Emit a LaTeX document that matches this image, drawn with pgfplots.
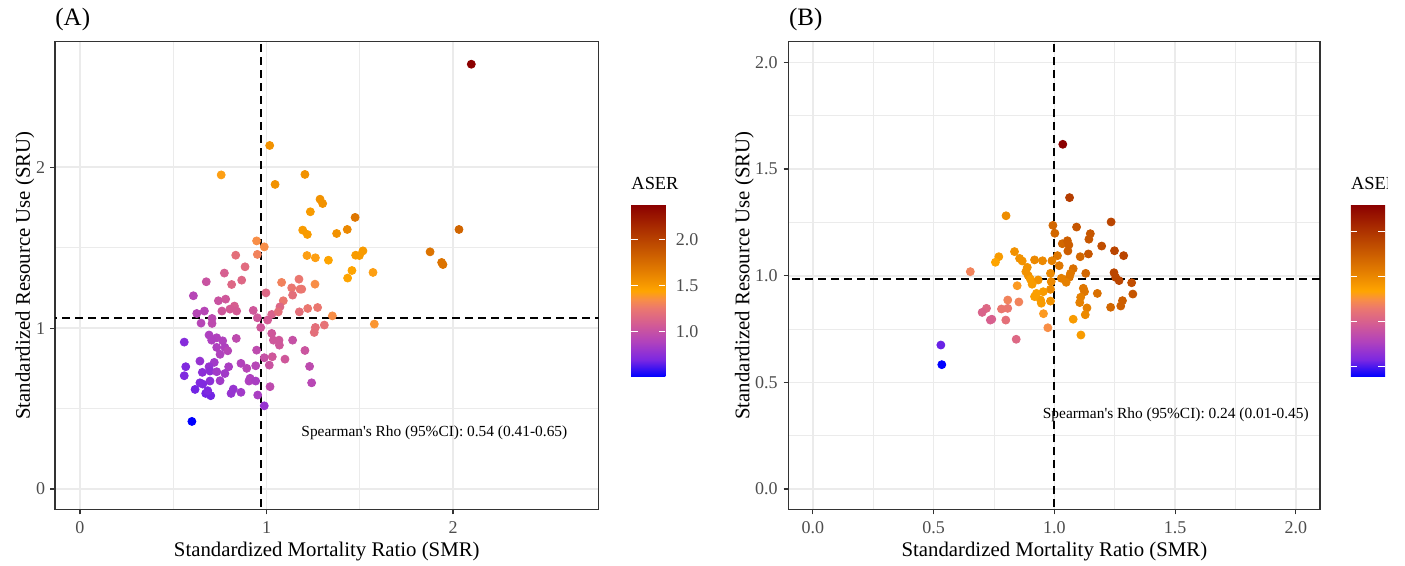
\documentclass[border=0pt]{standalone}
\usepackage{fontspec}
\setmainfont{Liberation Serif}
\usepackage{pgfplots}
\usepackage{pgfplotstable}
\pgfplotsset{compat=1.18}

\definecolor{gridgrey}{RGB}{235,235,235}
\definecolor{bordergrey}{RGB}{51,51,51}
\definecolor{ticktext}{RGB}{77,77,77}

\pgfplotsset{
  /pgf/number format/assume math mode=true,
  colormap={aser}{
    rgb255(0)=(0,0,255) rgb255(10)=(125,40,225) rgb255(20)=(175,65,190)
    rgb255(30)=(210,90,150) rgb255(40)=(235,120,110) rgb255(45)=(248,142,70)
    rgb255(50)=(255,165,0) rgb255(62.5)=(225,122,0) rgb255(75)=(195,82,0)
    rgb255(87.5)=(168,42,0) rgb255(100)=(139,0,0)
  },
  ggpanel/.style={
    scale only axis,
    anchor=south west,
    axis line style={bordergrey, line width=0.6pt},
    grid=both,
    major grid style={gridgrey, line width=0.8pt},
    minor grid style={gridgrey, line width=0.4pt},
    minor tick num=1,
    minor tick length=0pt,
    major tick length=2.5pt,
    tick align=outside,
    tick pos=left,
    tick style={bordergrey, line width=0.6pt},
    tick label style={font=\fontsize{9}{10}\selectfont, text=ticktext},
    xticklabel style={anchor=north, inner sep=0pt, yshift=-3.4pt},
    label style={font=\fontsize{10.4}{12}\selectfont},
    xlabel={Standardized Mortality Ratio (SMR)},
    ylabel={Standardized Resource Use (SRU)},
    xlabel style={at={(axis description cs:0.5,-0.0999)}, anchor=base},
    title style={at={(axis description cs:0,1)}, anchor=base west, yshift=2pt,
      inner sep=0pt, font=\fontsize{12.5}{14}\selectfont},
    colormap name=aser,
    colorbar,
    colorbar/width=17.15pt,
  },
  ggbar/.style={
    scale only axis,
    height=85.85pt,
    anchor=north west,
    axis line style={draw=none},
    tick align=inside,
    ytick pos=both,
    yticklabel pos=right,
    major tick length=3.3pt,
    ytick style={white, line width=0.5pt},
    yticklabel style={font=\fontsize{9}{10}\selectfont, anchor=west, inner sep=0pt, xshift=5pt,
      /pgf/number format/.cd, fixed, fixed zerofill, precision=1},
    title={ASER},
    title style={at={(axis description cs:0,1)}, anchor=base west, yshift=1.5pt,
      inner sep=0pt, font=\fontsize{9.2}{11}\selectfont},
  },
  ggpoints/.style={scatter, only marks, mark=*, mark size=2pt,
    scatter src=explicit,
    scatter/use mapped color={draw=mapped color, fill=mapped color}},
}

% panel A: SMR, SRU, ASER
\pgfplotstableread{
x y c
0.947 1.542 1.35
0.988 1.505 1.35
0.951 1.458 1.30
0.835 1.453 1.20
0.885 1.381 1.18
0.774 1.342 1.10
0.867 1.298 1.15
0.677 1.288 1.02
0.813 1.271 1.15
1.081 1.284 1.30
0.997 1.219 1.15
0.608 1.201 0.92
0.742 1.170 1.02
0.781 1.180 1.05
1.090 1.170 1.25
0.828 1.137 1.10
0.804 1.118 1.08
0.840 1.106 1.08
0.761 1.106 1.05
0.929 1.110 1.05
1.072 1.132 1.15
0.667 1.106 0.92
0.626 1.091 0.92
0.708 1.060 0.95
0.649 1.031 0.92
0.708 1.029 0.96
1.028 1.085 1.12
1.063 1.101 1.20
0.951 1.064 1.05
1.006 1.050 1.08
0.969 1.004 1.05
0.692 0.957 0.88
0.733 0.940 0.89
0.706 0.925 0.88
0.765 0.921 0.89
0.838 0.936 0.96
0.559 0.913 0.73
1.028 0.967 1.05
1.037 0.925 1.05
1.067 0.925 1.05
1.069 0.894 1.05
0.733 0.880 0.88
0.777 0.880 0.88
0.792 0.859 0.92
0.947 0.863 0.96
0.751 0.837 0.89
0.988 0.816 1.00
1.031 0.822 1.05
1.099 0.807 1.05
0.643 0.795 0.79
0.720 0.787 0.83
0.692 0.760 0.79
0.797 0.760 0.86
0.863 0.781 0.90
1.015 0.770 1.02
0.894 0.750 0.92
0.942 0.766 0.92
0.567 0.760 0.71
0.559 0.704 0.71
0.656 0.725 0.75
0.697 0.733 0.76
0.733 0.729 0.83
0.777 0.718 0.83
0.751 0.673 0.83
0.697 0.671 0.75
0.643 0.660 0.71
0.658 0.652 0.71
0.912 0.688 0.88
0.906 0.671 0.88
0.942 0.671 0.86
1.019 0.636 0.96
0.617 0.619 0.68
0.674 0.594 0.68
0.701 0.580 0.68
0.685 0.611 0.70
0.810 0.594 0.79
0.822 0.621 0.79
0.863 0.601 0.83
0.953 0.584 0.86
0.988 0.517 0.79
0.600 0.420 0.51
1.206 1.955 1.55
1.287 1.801 1.55
1.301 1.774 1.55
1.235 1.723 1.50
1.475 1.688 1.70
1.194 1.609 1.50
1.219 1.582 1.50
1.376 1.588 1.55
1.433 1.613 1.60
1.217 1.451 1.42
1.262 1.437 1.42
1.332 1.422 1.45
1.478 1.453 1.50
1.498 1.451 1.50
1.517 1.480 1.50
1.458 1.358 1.45
1.435 1.311 1.45
1.571 1.346 1.42
1.174 1.304 1.25
1.260 1.273 1.35
1.135 1.250 1.25
1.180 1.242 1.25
1.189 1.242 1.25
1.140 1.205 1.20
1.221 1.122 1.25
1.274 1.128 1.25
1.176 1.101 1.20
1.353 1.076 1.35
1.262 1.004 1.20
1.310 1.019 1.22
1.256 0.973 1.20
1.578 1.025 1.38
1.140 0.925 1.00
1.206 0.861 1.03
1.231 0.762 0.96
1.242 0.660 0.93
1.017 2.135 1.55
0.757 1.952 1.42
1.046 1.893 1.55
2.098 2.640 2.38
2.032 1.613 1.80
1.877 1.474 1.72
1.939 1.408 1.72
1.946 1.395 1.72
}\dataA

% panel B: SMR, SRU, ASER
\pgfplotstableread{
x y c
1.035 1.616 2.30
1.063 1.366 1.95
0.800 1.281 1.48
1.235 1.252 1.90
0.994 1.236 1.70
1.002 1.199 1.70
1.092 1.228 1.80
1.149 1.197 1.80
1.143 1.171 1.80
1.033 1.150 1.70
1.054 1.164 1.75
1.060 1.144 1.75
1.056 1.116 1.75
1.196 1.139 1.85
1.249 1.117 1.90
1.287 1.094 1.90
1.141 1.102 1.80
1.107 1.089 1.70
1.013 1.094 1.60
0.990 1.070 1.55
1.020 1.047 1.60
0.951 1.070 1.50
0.918 1.074 1.50
0.835 1.113 1.45
0.770 1.089 1.40
0.756 1.063 1.35
0.856 1.081 1.45
0.867 1.069 1.45
0.888 1.039 1.45
0.882 1.019 1.45
0.892 1.000 1.45
0.901 0.983 1.40
0.933 0.980 1.45
0.908 0.960 1.40
0.984 1.011 1.50
1.078 1.033 1.65
1.067 1.011 1.60
1.062 0.993 1.60
1.029 0.988 1.55
1.049 0.969 1.55
1.130 1.011 1.70
1.247 1.014 1.90
1.254 0.992 1.90
1.268 0.977 1.90
1.320 0.967 1.85
1.325 0.914 1.80
1.282 0.883 1.75
1.275 0.858 1.75
1.233 0.852 1.70
1.178 0.917 1.65
1.120 0.941 1.60
1.125 0.925 1.60
1.109 0.899 1.55
1.105 0.874 1.55
1.135 0.849 1.55
1.128 0.817 1.50
1.078 0.796 1.40
1.110 0.722 1.40
0.987 0.972 1.50
0.984 0.936 1.50
0.984 0.881 1.45
0.954 0.925 1.40
0.943 0.886 1.40
0.946 0.871 1.40
0.918 0.902 1.38
0.926 0.917 1.38
0.846 0.953 1.30
0.853 0.877 1.20
0.807 0.886 1.20
0.807 0.847 1.15
0.781 0.844 1.15
0.719 0.847 1.05
0.701 0.828 1.02
0.735 0.792 1.00
0.741 0.796 1.00
0.799 0.792 1.10
0.955 0.822 1.30
0.973 0.756 1.25
0.842 0.702 1.05
0.652 1.019 1.20
0.530 0.675 0.55
0.534 0.583 0.39
}\dataB

\begin{document}
\begin{tikzpicture}

\begin{axis}[ggpanel,
    at={(27.5pt,28.35pt)},
    width=271.75pt, height=233.8pt,
    xmin=-0.134, xmax=2.78, ymin=-0.126, ymax=2.78,
    xtick={0,1,2}, ytick={0,1,2},
    yticklabel style={anchor=east, inner sep=0pt, xshift=-2.2pt},
    ylabel style={at={(axis description cs:-0.046,0.5)}, anchor=base},
    title={(A)},
    point meta min=0.51, point meta max=2.38,
    colorbar style={ggbar,
      at={(parent axis.north east)}, xshift=7.75pt, yshift=-81.65pt,
      ytick={1,1.5,2}},
  ]
  \addplot[ggpoints] table[x=x, y=y, meta=c] {\dataA};
  \node[font=\fontsize{7.7}{9}\selectfont] at (axis cs:1.9,0.35)
    {Spearman\textquotesingle s Rho (95\%CI): 0.54 (0.41-0.65)};
  \addplot[black, line width=0.9pt, dash pattern=on 4pt off 2.5pt] coordinates {(0.97,-1) (0.97,4)};
  \addplot[black, line width=0.9pt, dash pattern=on 4pt off 2.5pt] coordinates {(-1,1.064) (4,1.064)};
\end{axis}

\begin{axis}[ggpanel,
    at={(394.35pt,28.35pt)},
    width=265.65pt, height=233.8pt,
    xmin=-0.1, xmax=2.1, ymin=-0.095, ymax=2.097,
    xtick={0,0.5,1,1.5,2}, ytick={0,0.5,1,1.5,2},
    xticklabel style={/pgf/number format/.cd, fixed, fixed zerofill, precision=1},
    yticklabel style={anchor=east, inner sep=0pt, xshift=-2.85pt,
      /pgf/number format/.cd, fixed, fixed zerofill, precision=1},
    ylabel style={at={(axis description cs:-0.074,0.5)}, anchor=base},
    title={(B)},
    point meta min=0.39, point meta max=2.30,
    colorbar style={ggbar,
      at={(parent axis.north east)}, xshift=6.85pt, yshift=-81.65pt,
      ytick={0.5,1,1.5,2}, yticklabels={}},
  ]
  \addplot[ggpoints] table[x=x, y=y, meta=c] {\dataB};
  \node[font=\fontsize{7.7}{9}\selectfont] at (axis cs:1.503,0.347)
    {Spearman\textquotesingle s Rho (95\%CI): 0.24 (0.01-0.45)};
  \addplot[black, line width=0.9pt, dash pattern=on 4pt off 2.5pt] coordinates {(1,-1) (1,4)};
  \addplot[black, line width=0.9pt, dash pattern=on 4pt off 2.5pt] coordinates {(-1,0.985) (4,0.985)};
\end{axis}

% the reference figure is cropped just right of the second legend
\fill[white] (694.2pt,0pt) rectangle (703pt,283pt);

\pgfresetboundingbox
\path[use as bounding box] (0,0) rectangle (702.5pt,283pt);
\end{tikzpicture}
\end{document}
